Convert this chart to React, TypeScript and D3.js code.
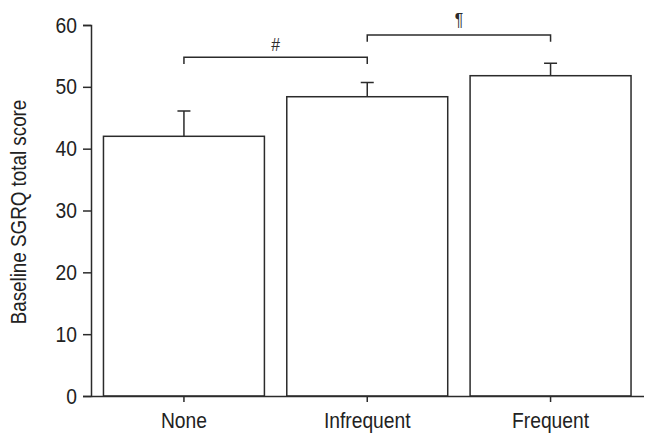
import React, { useRef, useEffect } from "react";
import * as d3 from "d3";

const categories = ["None", "Infrequent", "Frequent"];
const means = [42.0, 48.4, 51.8];
const errorTops = [46.1, 50.7, 53.8];
const yTicks = [0, 10, 20, 30, 40, 50, 60];
const brackets = [
  { from: "None", to: "Infrequent", y: 54.8, leg: 53.7, symbol: "#", lift: 6 },
  { from: "Infrequent", to: "Frequent", y: 58.4, leg: 57.3, symbol: "¶", lift: 9 },
];

// the reference uses a condensed sans, so text is squeezed horizontally
const SQUEEZE = 0.875;

const App = () => {
  const svgRef = useRef<SVGSVGElement>(null);

  useEffect(() => {
    const width = 645;
    const height = 433;
    const ink = "#2b2b2b";
    const font = "'Liberation Sans', Arial, sans-serif";

    const svg = d3.select(svgRef.current).attr("width", width).attr("height", height);
    svg.selectAll("*").remove();

    const x = d3
      .scaleBand()
      .domain(categories)
      .range([91, 643.5])
      .paddingInner(0.122)
      .paddingOuter(0.068);

    const y = d3.scaleLinear().domain([0, 60]).range([396, 25]);

    const g = svg.append("g");

    // bars
    g.selectAll(".bar")
      .data(categories)
      .enter()
      .append("rect")
      .attr("x", (d) => x(d))
      .attr("y", (d, i) => y(means[i]))
      .attr("width", x.bandwidth())
      .attr("height", (d, i) => y(0) - y(means[i]))
      .attr("fill", "white")
      .attr("stroke", ink)
      .attr("stroke-width", 1.5);

    // error bars
    const cx = (d) => x(d) + x.bandwidth() / 2;
    g.selectAll(".err")
      .data(categories)
      .enter()
      .append("path")
      .attr(
        "d",
        (d, i) =>
          `M${cx(d)},${y(means[i])}V${y(errorTops[i])}M${cx(d) - 6.5},${y(errorTops[i])}H${cx(d) + 6.5}`
      )
      .attr("fill", "none")
      .attr("stroke", ink)
      .attr("stroke-width", 1.5);

    // significance brackets
    brackets.forEach((b) => {
      const x1 = cx(b.from);
      const x2 = cx(b.to);
      g.append("path")
        .attr("d", `M${x1},${y(b.leg)}V${y(b.y)}H${x2}V${y(b.leg)}`)
        .attr("fill", "none")
        .attr("stroke", ink)
        .attr("stroke-width", 1.5);
      g.append("text")
        .attr("transform", `translate(${(x1 + x2) / 2},${y(b.y) - b.lift}) scale(${SQUEEZE},1)`)
        .attr("text-anchor", "middle")
        .style("font-family", font)
        .style("font-size", "18px")
        .attr("fill", ink)
        .text(b.symbol);
    });

    // y axis
    const yAxis = g
      .append("g")
      .attr("transform", "translate(91,0)")
      .call(d3.axisLeft(y).tickValues(yTicks).tickSize(8).tickPadding(6));
    yAxis.select(".domain").attr("stroke", ink).attr("stroke-width", 1.5);
    yAxis.selectAll(".tick line").attr("stroke", ink).attr("stroke-width", 1.5);
    yAxis
      .selectAll(".tick text")
      .attr("x", -14 / SQUEEZE)
      .attr("transform", `scale(${SQUEEZE},1)`)
      .style("font-family", font)
      .style("font-size", "22px")
      .attr("fill", "#222");

    // x axis
    const xAxis = g
      .append("g")
      .attr("transform", "translate(0,396)")
      .call(d3.axisBottom(x).tickSize(6).tickSizeOuter(0).tickPadding(10));
    xAxis.select(".domain").attr("stroke", ink).attr("stroke-width", 1.5);
    xAxis.selectAll(".tick line").attr("stroke", ink).attr("stroke-width", 1.5);
    xAxis
      .selectAll(".tick text")
      .attr("transform", `scale(${SQUEEZE},1)`)
      .style("font-family", font)
      .style("font-size", "22px")
      .attr("fill", "#222");

    // y label
    svg
      .append("text")
      .attr("transform", `translate(26,212) rotate(-90) scale(${SQUEEZE},1)`)
      .attr("text-anchor", "middle")
      .style("font-family", font)
      .style("font-size", "21.5px")
      .attr("fill", "#222")
      .text("Baseline SGRQ total score");
  }, []);

  return (
    <svg
      ref={svgRef}
      style={{ position: "absolute", left: 0, top: 0, background: "white" }}
    ></svg>
  );
};

export default App;
